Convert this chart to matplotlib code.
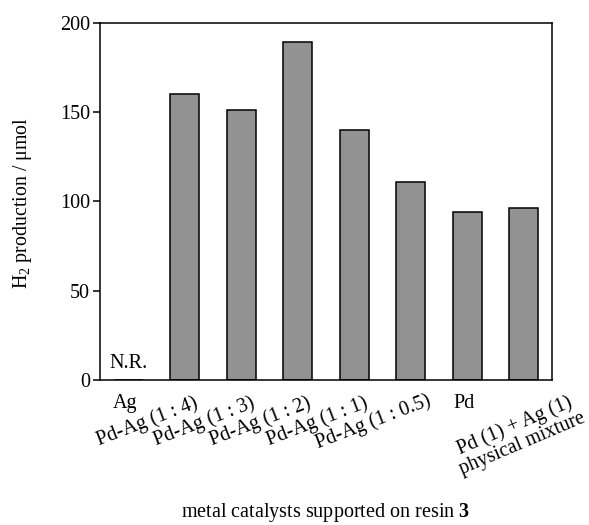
import matplotlib
matplotlib.use("Agg")
import matplotlib.pyplot as plt
import numpy as np

categories = ["Ag", "Pd-Ag (1 : 4)", "Pd-Ag (1 : 3)", "Pd-Ag (1 : 2)",
              "Pd-Ag (1 : 1)", "Pd-Ag (1 : 0.5)", "Pd",
              "Pd (1) + Ag (1)\nphysical mixture"]
values = [0, 160, 151, 189, 140, 111, 94, 96]
yticks = [0, 50, 100, 150, 200]

plt.rcParams['font.family'] = ['Liberation Serif', 'DejaVu Serif']
plt.rcParams['mathtext.fontset'] = 'custom'
plt.rcParams['mathtext.rm'] = 'Liberation Serif'
plt.rcParams['mathtext.it'] = 'Liberation Serif:italic'
plt.rcParams['mathtext.bf'] = 'Liberation Serif:bold'

FS = 14.5

fig = plt.figure(figsize=(5.89, 5.25), dpi=100)
ax = fig.add_axes([100/589, 1-380/525, 452/589, 357.5/525])

x = np.arange(len(categories))
ax.bar(x, values, width=0.51, color='#929292', edgecolor='black', linewidth=1.1, zorder=2)
ax.set_xlim(-0.5, len(categories) - 0.5)
ax.set_ylim(0, 200)
ax.set_yticks(yticks)
ax.set_yticklabels([str(v) for v in yticks], fontsize=FS)
ax.tick_params(axis='y', direction='out', length=4.8, width=1.1, pad=2.5)
ax.tick_params(axis='x', length=0)
ax.set_xticks([])
for s in ax.spines.values():
    s.set_linewidth(1.1)
    s.set_color('black')

# N.R. annotation
ax.text(0, 9.5, "N.R.", ha='center', va='center', fontsize=FS)

# category labels
tr = ax.get_xaxis_transform()
for i, lab in enumerate(categories):
    if lab in ("Ag", "Pd"):
        ax.text(i - 0.05, -0.067, lab, transform=tr, ha='center', va='center', fontsize=FS)
    elif "\n" in lab:
        ax.text(i - 0.1, -0.152, lab, transform=tr, ha='center', va='center', fontsize=FS,
                rotation=23, rotation_mode='anchor', multialignment='center', linespacing=1.0)
    else:
        ax.text(i - 0.66, -0.117, lab, transform=tr, ha='center', va='center', fontsize=FS,
                rotation=21, rotation_mode='anchor')

fig.text(22.5/589, 1-203/525, "H$_2$ production / μmol", rotation=90,
         ha='center', va='center', fontsize=14.3)
fig.text(326/589, 1-512/525, "metal catalysts supported on resin $\\mathbf{3}$",
         ha='center', va='center', fontsize=FS)

fig.savefig("out.png", dpi=100)
